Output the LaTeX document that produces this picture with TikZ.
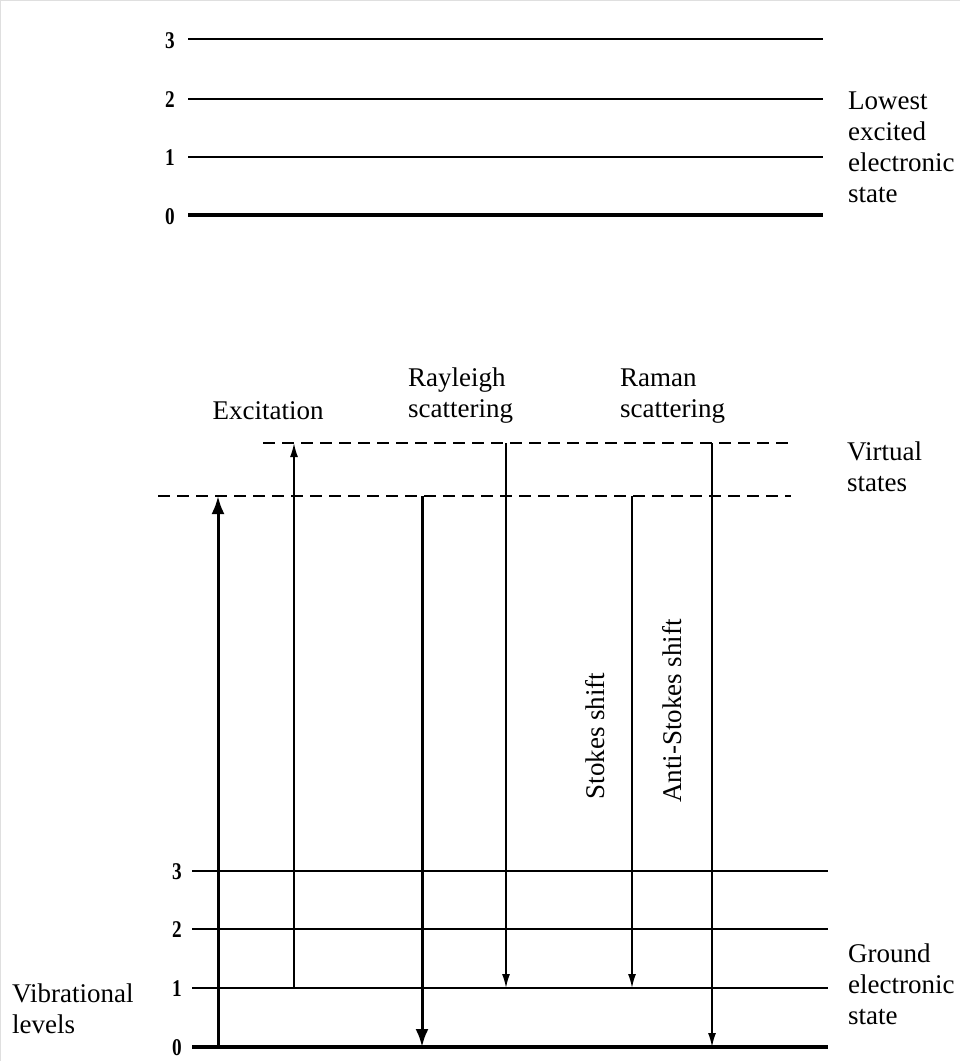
\documentclass[tikz,border=0pt]{standalone}
\usepackage{fontspec}
\usepackage{graphicx}
\setmainfont{Liberation Serif}
\usetikzlibrary{arrows.meta}
\newcommand{\levelnum}[1]{\scalebox{0.8}[1]{#1}}
\begin{document}
\begin{tikzpicture}[x=1bp,y=-1bp,
 level/.style={line width=2.2bp},
 baselevel/.style={line width=4bp},
 virt/.style={line width=1.8bp,dash pattern=on 12bp off 7bp},
 thickarrow/.style={line width=3bp,-{Latex[length=18bp,width=13bp]}},
 thinarrow/.style={line width=1.7bp,-{Latex[length=14bp,width=8bp]}},
 num/.style={font=\fontsize{24bp}{26bp}\selectfont\bfseries,anchor=east,inner sep=0pt},
 lbl/.style={font=\fontsize{27bp}{31bp}\selectfont,align=left,inner sep=0pt},
 rlbl/.style={font=\fontsize{27bp}{31bp}\selectfont,inner sep=0pt,rotate=90},
]
\useasboundingbox (0,0) rectangle (960,1061);
\draw[gray!25,line width=1bp] (0.5,1061) -- (0.5,0.5) -- (960,0.5);

% excited state levels
\coordinate (e3l) at (188,39);  \coordinate (e3r) at (823,39);
\coordinate (e2l) at (188,99);  \coordinate (e2r) at (823,99);
\coordinate (e1l) at (188,157); \coordinate (e1r) at (823,157);
\coordinate (e0l) at (188,215); \coordinate (e0r) at (823,215);
\draw[level] (e3l) -- (e3r);
\draw[level] (e2l) -- (e2r);
\draw[level] (e1l) -- (e1r);
\draw[baselevel] (e0l) -- (e0r);
\node[num] (n e3) at (175,41) {\levelnum{3}};
\node[num] (n e2) at (175,100) {\levelnum{2}};
\node[num] (n e1) at (175,158) {\levelnum{1}};
\node[num] (n e0) at (175,217) {\levelnum{0}};
\node[lbl,anchor=west] (lowest) at (848,147) {Lowest\\excited\\electronic\\state};

% virtual states
\coordinate (v2l) at (263,443); \coordinate (v2r) at (791,443);
\coordinate (v1l) at (158,496); \coordinate (v1r) at (791,496);
\draw[virt] (v2l) -- (v2r);
\draw[virt] (v1l) -- (v1r);
\node[lbl,anchor=west] (virtual) at (847,467) {Virtual\\states};

% ground state levels
\coordinate (g3l) at (192,871);  \coordinate (g3r) at (828,871);
\coordinate (g2l) at (192,929);  \coordinate (g2r) at (828,929);
\coordinate (g1l) at (192,988);  \coordinate (g1r) at (828,988);
\coordinate (g0l) at (192,1047); \coordinate (g0r) at (828,1047);
\draw[level] (g3l) -- (g3r);
\draw[level] (g2l) -- (g2r);
\draw[level] (g1l) -- (g1r);
\draw[baselevel] (g0l) -- (g0r);
\node[num] (n g3) at (182,872) {\levelnum{3}};
\node[num] (n g2) at (182,930) {\levelnum{2}};
\node[num] (n g1) at (182,989) {\levelnum{1}};
\node[num] (n g0) at (182,1048) {\levelnum{0}};
\node[lbl,anchor=west] (ground) at (848,984) {Ground\\electronic\\state};
\node[lbl,anchor=west] (vib) at (12,1009) {Vibrational\\levels};

% column labels
\node[lbl] (exc) at (268,411) {Excitation};
\node[lbl,anchor=west] (rayl) at (408,396) {Rayleigh\\scattering};
\node[lbl,anchor=west] (raman) at (620,396) {Raman\\scattering};

% arrow end points
\coordinate (a1s) at (218,1047); \coordinate (a1e) at (218,496);
\coordinate (a2s) at (294,988);  \coordinate (a2e) at (294,443);
\coordinate (a3s) at (422,496);  \coordinate (a3e) at (422,1047);
\coordinate (a4s) at (506,443);  \coordinate (a4e) at (506,988);
\coordinate (a5s) at (632,496);  \coordinate (a5e) at (632,988);
\coordinate (a6s) at (712,443);  \coordinate (a6e) at (712,1047);
\draw[thickarrow] (a1s) -- (a1e);
\draw[thinarrow] (a2s) -- (a2e);
\draw[thickarrow] (a3s) -- (a3e);
\draw[thinarrow] (a4s) -- (a4e);
\draw[thinarrow] (a5s) -- (a5e);
\draw[thinarrow] (a6s) -- (a6e);

\node[rlbl] (stokes) at (595,736) {Stokes shift};
\node[rlbl] (astokes) at (672,711) {Anti-Stokes shift};
\end{tikzpicture}
\end{document}
